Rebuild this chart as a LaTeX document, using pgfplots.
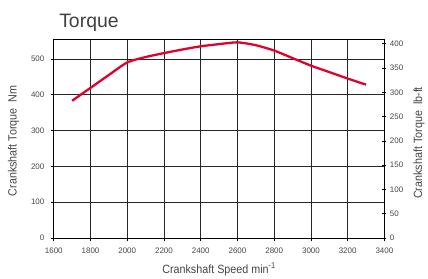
\documentclass[border=0pt]{standalone}
\usepackage{fontspec}
\setmainfont{Liberation Sans}
\newfontfamily\narrowfont{Liberation Sans}[FakeStretch=0.9]
\usepackage{pgfplots}
\pgfplotsset{compat=1.18}
\definecolor{curvered}{RGB}{226,0,44}
\definecolor{txtgray}{RGB}{70,70,70}
\begin{document}
\begin{tikzpicture}
\pgfplotsset{
  every tick label/.append style={font=\fontsize{8bp}{9bp}\selectfont, text=txtgray},
  /pgf/number format/assume math mode=true,
  /pgf/number format/1000 sep={},
}
\begin{axis}[
  name=ax,
  scale only axis,
  width=332bp, height=199bp,
  xmin=1600, xmax=3400,
  ymin=0, ymax=553,
  xtick={1600,1800,...,3400},
  ytick={0,100,...,500},
  grid=major,
  major grid style={black!85, line width=0.6bp},
  axis line style={black, line width=0.7bp},
  tick style={black, line width=0.6bp},
  major tick length=3bp,
  tick align=outside,
  xtick pos=bottom,
  ytick pos=left,
  xticklabel style={yshift=-3bp},
  yticklabel style={xshift=-3bp},
  clip=false,
]
\addplot[curvered, line width=2.3bp, smooth, tension=0.4] coordinates {
  (1700,383) (1800,419) (1900,455) (2000,490) (2100,505) (2200,516)
  (2300,526) (2400,535) (2500,541) (2600,546) (2700,538) (2800,523)
  (2900,502) (3000,481) (3100,463) (3200,445) (3300,428)
};
\node[anchor=base west, font=\fontsize{19.5bp}{22bp}\selectfont, text=black!75]
  at (rel axis cs:0.006,1.062) {Torque};
\node[rotate=90, font=\narrowfont\fontsize{12bp}{14bp}\selectfont, text=txtgray]
  at (rel axis cs:-0.122,0.49) {Crankshaft Torque\ \ Nm};
\node[rotate=90, font=\narrowfont\fontsize{12bp}{14bp}\selectfont, text=txtgray]
  at (rel axis cs:1.105,0.48) {Crankshaft Torque\ \ lb-ft};
\node[font=\narrowfont\fontsize{12bp}{14bp}\selectfont, text=txtgray]
  at (rel axis cs:0.5,-0.158) {Crankshaft Speed min\textsuperscript{-1}};
\end{axis}
\begin{axis}[
  scale only axis,
  width=332bp, height=199bp,
  xmin=1600, xmax=3400,
  ymin=0, ymax=407.9,
  axis x line=none,
  axis y line*=right,
  ytick={0,50,...,400},
  axis line style={black, line width=0.7bp},
  tick style={black, line width=0.6bp},
  major tick length=4bp,
  tick align=center,
  yticklabel style={xshift=0bp},
]
\addplot[draw=none] coordinates {(1600,0)};
\end{axis}
\path ([xshift=-54bp,yshift=-40bp]ax.south west) rectangle ([xshift=42bp,yshift=40bp]ax.north east);
\end{tikzpicture}
\end{document}
